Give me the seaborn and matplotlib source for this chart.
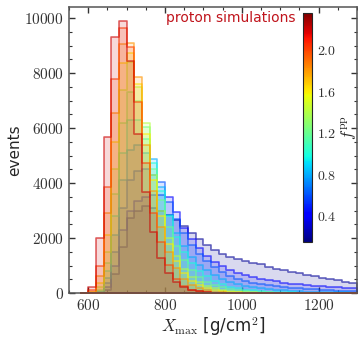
import numpy as np
import matplotlib
matplotlib.use('Agg')
import matplotlib.pyplot as plt
import seaborn as sns
from matplotlib.colors import Normalize, to_rgba
from matplotlib.ticker import MultipleLocator, FuncFormatter

sns.set_style('ticks')
plt.rcParams['font.family'] = ['DejaVu Sans']
plt.rcParams['mathtext.fontset'] = 'cm'

# bin edges of the Xmax histograms [g/cm^2]
bin_edges = np.arange(580, 1320, 20)
bin_centers = bin_edges[:-1] + 10

f_values = [0.2, 0.4, 0.6, 0.8, 1.0, 1.2, 1.4, 1.6, 1.8, 2.0, 2.2]

# counts per bin, first bin 580-600, last 1280-1300
counts_f02 = [0, 0, 10, 120, 700, 1680, 2730, 2980, 3160, 3100, 3000, 2850, 2650, 2440, 2200, 1950, 1750, 1560,
              1420, 1310, 1220, 1150, 1100, 1040, 960, 890, 830, 780, 720, 660, 600, 550, 500, 455, 415, 375]
counts_f04 = [0, 0, 15, 200, 1000, 2300, 3000, 3350, 3500, 3550, 3550, 3500, 2950, 2380, 1950, 1620, 1350, 1140,
              980, 850, 740, 650, 580, 520, 465, 420, 380, 345, 310, 285, 260, 240, 220, 205, 190, 180]
counts_f06 = [0, 0, 30, 350, 1500, 3100, 4100, 4450, 4500, 4300, 4050, 3300, 2680, 2170, 1760, 1420, 1150, 930,
              760, 620, 510, 420, 360, 317, 279, 245, 216, 190, 167, 147, 130, 114, 100, 88, 78, 68]
counts_f08 = [0, 0, 50, 550, 2100, 4100, 5200, 5400, 5100, 4870, 3850, 2850, 2200, 1700, 1320, 1030, 820, 640,
              500, 400, 320, 260, 215, 175, 142, 115, 93, 75, 61, 50, 41, 34, 28, 23, 19, 15]
counts_f10 = [0, 0, 80, 800, 2800, 5100, 6300, 6300, 5600, 4730, 3700, 2800, 2050, 1500, 1100, 800, 600, 440,
              320, 235, 170, 125, 92, 68, 50, 37, 27, 20, 15, 11, 8, 6, 4, 3, 2, 1]
counts_f12 = [0, 5, 120, 1100, 3600, 6200, 7300, 7000, 6050, 4500, 3400, 2400, 1700, 1200, 840, 590, 410, 290,
              200, 140, 98, 68, 47, 33, 23, 16, 11, 8, 5, 4, 3, 2, 1, 0, 0, 0]
counts_f14 = [0, 10, 200, 1500, 4500, 7400, 8400, 7500, 6190, 4300, 3000, 2000, 1330, 880, 580, 385, 255, 170,
              112, 74, 49, 32, 21, 14, 9, 6, 4, 3, 2, 0, 0, 0, 0, 0, 0, 0]
counts_f16 = [0, 20, 350, 2100, 5500, 8370, 8720, 7600, 5800, 4100, 2800, 1800, 1150, 720, 450, 280, 175, 108,
              67, 42, 26, 16, 10, 6, 4, 2, 0, 0, 0, 0, 0, 0, 0, 0, 0, 0]
counts_f18 = [0, 40, 600, 2900, 6540, 9050, 9090, 7850, 5380, 3700, 2400, 1500, 900, 520, 300, 170, 95, 53,
              30, 17, 9, 5, 3, 0, 0, 0, 0, 0, 0, 0, 0, 0, 0, 0, 0, 0]
counts_f20 = [0, 100, 1000, 3870, 7800, 9620, 8960, 6960, 4730, 2900, 1870, 1020, 500, 240, 110, 55, 25, 12,
              6, 3, 0, 0, 0, 0, 0, 0, 0, 0, 0, 0, 0, 0, 0, 0, 0, 0]
counts_f22 = [0, 220, 2000, 5670, 9320, 9900, 8440, 5780, 3680, 2230, 1270, 720, 410, 210, 110, 55, 28, 14,
              7, 3, 0, 0, 0, 0, 0, 0, 0, 0, 0, 0, 0, 0, 0, 0, 0, 0]

all_counts = [counts_f02, counts_f04, counts_f06, counts_f08, counts_f10, counts_f12,
              counts_f14, counts_f16, counts_f18, counts_f20, counts_f22]

cmap = plt.get_cmap('jet')
norm = Normalize(vmin=0.15, vmax=2.35)

fig = plt.figure(figsize=(3.58, 3.37), dpi=100)
ax = fig.add_axes([69 / 358, 44 / 337, 288 / 358, 286 / 337])

# draw low f first so the red ones end up on top
for f, counts in zip(f_values, all_counts):
    c = cmap(norm(f))
    sns.histplot(x=bin_centers, weights=counts, bins=bin_edges.tolist(), element='step', fill=True,
                 facecolor=to_rgba(c, 0.15), edgecolor=to_rgba(c, 0.6), linewidth=1.2, ax=ax)

ax.set_xlim(550, 1300)
ax.set_ylim(0, 10400)
ax.xaxis.set_major_locator(MultipleLocator(200))
ax.xaxis.set_minor_locator(MultipleLocator(50))
ax.yaxis.set_major_locator(MultipleLocator(2000))
ax.yaxis.set_minor_locator(MultipleLocator(500))
ax.xaxis.set_major_formatter(FuncFormatter(lambda v, p: f'${v:.0f}$'))
ax.yaxis.set_major_formatter(FuncFormatter(lambda v, p: f'${v:.0f}$'))
ax.tick_params(which='both', direction='in', top=True, right=True, colors='#333333', labelsize=11)
ax.tick_params(which='major', length=4, width=1)
ax.tick_params(which='minor', length=2, width=0.8)
for sp in ax.spines.values():
    sp.set_color('#555555')
    sp.set_linewidth(1.1)

ax.set_xlabel(r'$X_{\rm max}$ [g/cm$^2$]', fontsize=12, labelpad=2)
ax.set_ylabel('events', fontsize=11, labelpad=2)

fig.text(295 / 358, 1 - 18 / 337, 'proton simulations', color='#c0141c', fontsize=10,
         ha='right', va='center')

# colorbar for f_pp inside the axes
cax = fig.add_axes([302.7 / 358, 95 / 337, 9 / 358, 229 / 337])
sm = plt.cm.ScalarMappable(norm=norm, cmap=cmap)
cb = fig.colorbar(sm, cax=cax, ticks=[0.4, 0.8, 1.2, 1.6, 2.0])
cb.ax.yaxis.set_major_formatter(FuncFormatter(lambda v, p: f'${v:.1f}$'))
cb.ax.tick_params(direction='in', length=3, labelsize=10, colors='#333333')
cb.outline.set_linewidth(0.8)
cb.set_label(r'$f^{\rm pp}$', fontsize=12, labelpad=2)

fig.savefig('out.png', dpi=100)
